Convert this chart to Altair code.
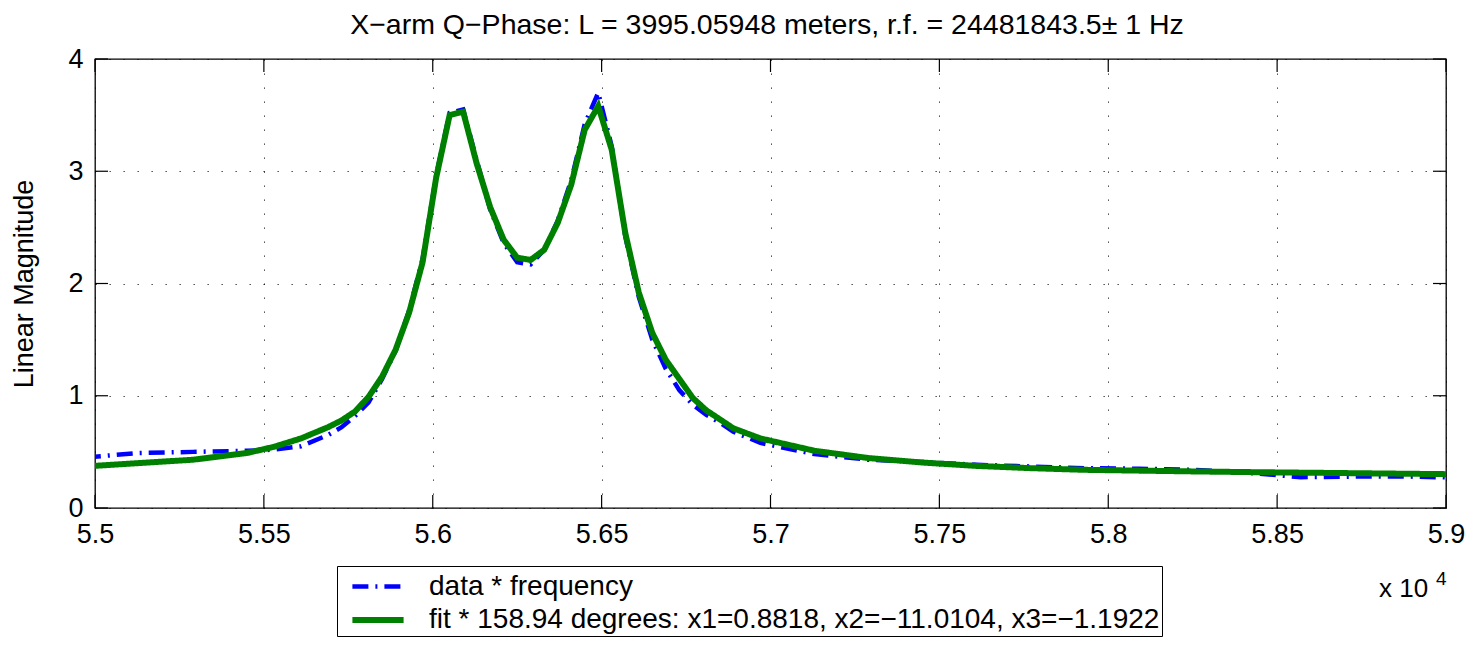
import altair as alt
import pandas as pd

# Frequency samples (Hz) and magnitudes
freq = [54970, 55130, 55290, 55450, 55530, 55610, 55690, 55730, 55770, 55810,
        55850, 55890, 55930, 55970, 56010, 56050, 56090, 56130, 56170, 56210,
        56250, 56290, 56330, 56370, 56410, 56450, 56490, 56530, 56570, 56610,
        56650, 56690, 56730, 56770, 56810, 56850, 56890, 56970, 57130, 57290,
        57450, 57610, 57770, 57930, 58090, 58250, 58410, 58570, 58730, 58890,
        59050]

data_mag = [0.45, 0.49, 0.50, 0.51, 0.52, 0.55, 0.65, 0.72, 0.82, 0.94,
            1.15, 1.40, 1.76, 2.22, 2.96, 3.52, 3.55, 3.10, 2.66, 2.36,
            2.19, 2.17, 2.30, 2.56, 2.92, 3.42, 3.70, 3.22, 2.42, 1.88,
            1.50, 1.24, 1.05, 0.92, 0.83, 0.76, 0.68, 0.58, 0.48, 0.43,
            0.41, 0.385, 0.37, 0.355, 0.35, 0.34, 0.315, 0.275, 0.28, 0.28,
            0.27]

fit_mag = [0.37, 0.40, 0.43, 0.49, 0.545, 0.62, 0.72, 0.78, 0.86, 0.99,
           1.17, 1.41, 1.74, 2.19, 2.94, 3.50, 3.53, 3.07, 2.68, 2.39,
           2.23, 2.21, 2.30, 2.54, 2.88, 3.37, 3.58, 3.19, 2.45, 1.92,
           1.56, 1.32, 1.15, 0.98, 0.87, 0.79, 0.71, 0.62, 0.51, 0.445,
           0.405, 0.375, 0.355, 0.34, 0.333, 0.326, 0.32, 0.315, 0.31, 0.305,
           0.30]

series_names = ["data * frequency",
                "fit * 158.94 degrees: x1=0.8818, x2=\u221211.0104, x3=\u22121.1922"]
series_colors = ["#0000ff", "#008000"]

x_ticks = [55000, 55500, 56000, 56500, 57000, 57500, 58000, 58500, 59000]
y_ticks = [0, 1, 2, 3, 4]

title_text = "X\u2212arm Q\u2212Phase: L = 3995.05948 meters, r.f. = 24481843.5\u00b1 1 Hz"

FONT = "Liberation Sans"
W, H = 1351, 449
TICK = 13

rows = []
for f, v in zip(freq, data_mag):
    rows.append({"freq": f, "mag": v, "series": series_names[0]})
for f, v in zip(freq, fit_mag):
    rows.append({"freq": f, "mag": v, "series": series_names[1]})
df = pd.DataFrame(rows)

xscale = alt.Scale(domain=[55000, 59000], nice=False, zero=False)
yscale = alt.Scale(domain=[0, 4], nice=False)

lines = alt.Chart(df).mark_line(clip=True).encode(
    x=alt.X("freq:Q", scale=xscale,
            axis=alt.Axis(values=x_ticks, title=None, ticks=False, domain=False,
                          labelExpr="format(datum.value/10000, '.3~f')",
                          labelFlush=False, labelOverlap=False,
                          labelPadding=34, labelBaseline="alphabetic",
                          grid=True, gridDash=[1.3, 12.7], gridColor="#000000",
                          gridOpacity=0.8, gridWidth=1)),
    y=alt.Y("mag:Q", scale=yscale,
            axis=alt.Axis(values=y_ticks, title="Linear Magnitude", ticks=False,
                          domain=False, labelFlush=False, labelOverlap=False,
                          labelPadding=12, format="d",
                          grid=True, gridDash=[1.3, 12.7], gridColor="#000000",
                          gridOpacity=0.8, gridWidth=1,
                          titleX=-63, titleY=H / 2, titleAngle=-90,
                          titleBaseline="alphabetic", titleAlign="center")),
    color=alt.Color("series:N",
                    scale=alt.Scale(domain=series_names, range=series_colors),
                    title=None),
    strokeDash=alt.StrokeDash("series:N",
                              scale=alt.Scale(domain=series_names,
                                              range=[[16, 7, 2, 7], [1, 0]]),
                              title=None),
    strokeWidth=alt.StrokeWidth("series:N",
                                scale=alt.Scale(domain=series_names, range=[4.5, 6]),
                                title=None),
    order=alt.Order("series:N"),
)

xt = pd.DataFrame({"v": x_ticks})
yt = pd.DataFrame({"v": y_ticks})

xt_bottom = alt.Chart(xt).mark_rule(color="black", strokeWidth=1.2).encode(
    x=alt.X("v:Q", scale=xscale), y=alt.value(H), y2=alt.value(H - TICK))
xt_top = alt.Chart(xt).mark_rule(color="black", strokeWidth=1.2).encode(
    x=alt.X("v:Q", scale=xscale), y=alt.value(0), y2=alt.value(TICK))
yt_left = alt.Chart(yt).mark_rule(color="black", strokeWidth=1.2).encode(
    y=alt.Y("v:Q", scale=yscale), x=alt.value(0), x2=alt.value(TICK))
yt_right = alt.Chart(yt).mark_rule(color="black", strokeWidth=1.2).encode(
    y=alt.Y("v:Q", scale=yscale), x=alt.value(W), x2=alt.value(W - TICK))

title = alt.Chart(pd.DataFrame({"t": [title_text]})).mark_text(
    font=FONT, fontSize=28.5, align="center", baseline="alphabetic", color="black"
).encode(text="t:N", x=alt.value(672), y=alt.value(-25))
mult = alt.Chart(pd.DataFrame({"t": ["x 10"]})).mark_text(
    font=FONT, fontSize=26, align="left", baseline="alphabetic", color="black"
).encode(text="t:N", x=alt.value(1284), y=alt.value(538))
expo = alt.Chart(pd.DataFrame({"t": ["4"]})).mark_text(
    font=FONT, fontSize=19, align="left", baseline="alphabetic", color="black"
).encode(text="t:N", x=alt.value(1341), y=alt.value(526))

chart = alt.layer(lines, xt_bottom, xt_top, yt_left, yt_right, title, mult, expo).properties(
    width=W, height=H,
    padding={"left": 87, "top": 51, "right": 25, "bottom": 137},
    autosize=alt.AutoSizeParams(type="none"),
).configure_view(
    stroke="black", strokeWidth=1.3
).configure_axis(
    labelFont=FONT, labelFontSize=27, labelColor="black",
    titleFont=FONT, titleFontSize=27, titleColor="black", titleFontWeight="normal",
).configure_legend(
    orient="none", legendX=242, legendY=507,
    labelFont=FONT, labelFontSize=28, labelColor="black", labelLimit=0,
    symbolType="M-1.6,0H1.6", symbolSize=1024, symbolOffset=20,
    labelOffset=32, padding=2, rowPadding=0,
    strokeColor="black", fillColor="white", cornerRadius=0,
)

chart.save("out.html", embed_options={"renderer": "svg", "actions": False})
